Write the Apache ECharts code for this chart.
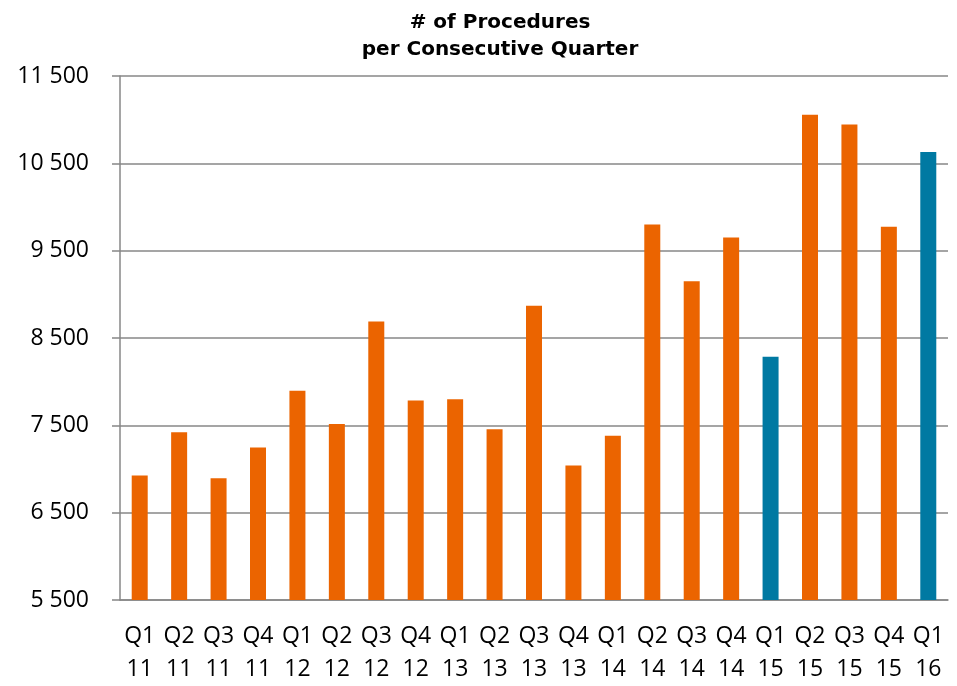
<!DOCTYPE html>
<html>
<head>
<meta charset="utf-8">
<title># of Procedures per Consecutive Quarter</title>
<script src="https://cdn.jsdelivr.net/npm/echarts@6/dist/echarts.min.js"></script>
<style>
  html, body { margin: 0; padding: 0; background: #ffffff; }
  #chart { width: 957px; height: 686px; }
</style>
</head>
<body>
<div id="chart"></div>
<script>
const quarters = [
  'Q1\n11', 'Q2\n11', 'Q3\n11', 'Q4\n11',
  'Q1\n12', 'Q2\n12', 'Q3\n12', 'Q4\n12',
  'Q1\n13', 'Q2\n13', 'Q3\n13', 'Q4\n13',
  'Q1\n14', 'Q2\n14', 'Q3\n14', 'Q4\n14',
  'Q1\n15', 'Q2\n15', 'Q3\n15', 'Q4\n15',
  'Q1\n16'
];
const procedures = [
  6925, 7420, 6895, 7245,
  7895, 7515, 8690, 7785,
  7800, 7455, 8870, 7040,
  7380, 9800, 9150, 9650,
  8285, 11055, 10945, 9775,
  10630
];
// quarters drawn in blue instead of orange
const blueQuarters = ['Q1\n15', 'Q1\n16'];

const ORANGE = '#eb6400';
const BLUE = '#0079a2';
const GREY = '#878787';

const chart = echarts.init(document.getElementById('chart'), null, { renderer: 'canvas' });

const fmt = v => String(v).replace(/\B(?=(\d{3})+(?!\d))/g, ' ');

chart.setOption({
  backgroundColor: '#ffffff',
  animation: false,
  title: {
    text: '# of Procedures\nper Consecutive Quarter',
    left: 495,
    top: 4,
    textAlign: 'center',
    textStyle: {
      fontFamily: 'DejaVu Sans',
      fontWeight: 'bold',
      fontSize: 20,
      lineHeight: 27,
      color: '#000000'
    }
  },
  grid: {
    left: 120,
    right: 9,
    top: 76,
    bottom: 80,
    containLabel: false
  },
  xAxis: {
    type: 'category',
    data: quarters,
    axisLine: { lineStyle: { color: GREY, width: 1.5 } },
    axisTick: { length: 8, lineStyle: { color: GREY, width: 1.5 } },
    axisLabel: {
      interval: 0,
      margin: 20,
      color: '#000000',
      fontFamily: 'Open Sans',
      fontSize: 23,
      lineHeight: 33
    }
  },
  yAxis: {
    type: 'value',
    min: 5500,
    max: 11500,
    interval: 1000,
    axisLine: { show: true, lineStyle: { color: GREY, width: 1.5 } },
    axisTick: { show: true, length: 8, lineStyle: { color: GREY, width: 1.5 } },
    splitLine: { lineStyle: { color: GREY, width: 1.5 } },
    axisLabel: {
      margin: 31,
      color: '#000000',
      fontFamily: 'Open Sans',
      fontSize: 23,
      formatter: fmt
    }
  },
  series: [{
    type: 'bar',
    data: procedures,
    barWidth: 16,
    itemStyle: {
      color: p => blueQuarters.includes(p.name) ? BLUE : ORANGE
    }
  }]
});
</script>
</body>
</html>
